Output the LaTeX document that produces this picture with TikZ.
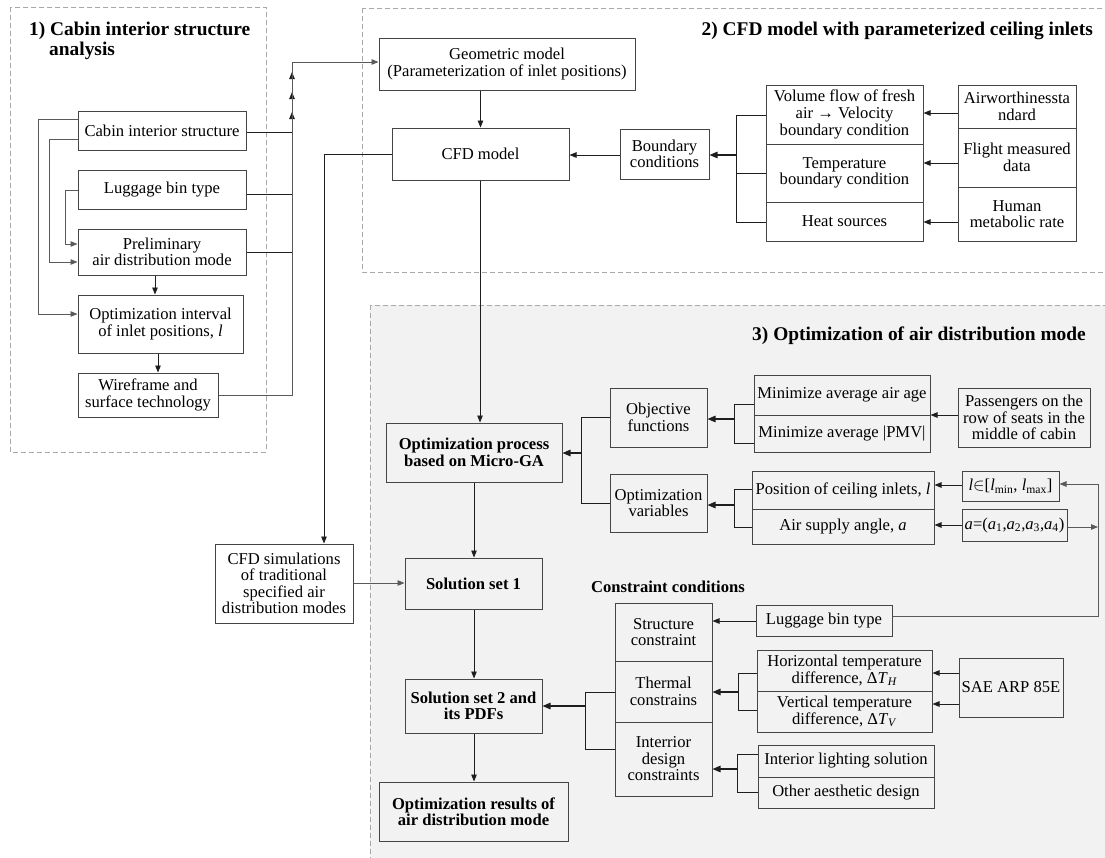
\documentclass[tikz,border=0pt]{standalone}
\usepackage{fontspec}
\setmainfont{Liberation Serif}
\usetikzlibrary{arrows.meta}
\definecolor{boxline}{HTML}{454545}
\definecolor{conline}{HTML}{1E1E1E}
\definecolor{grayline}{HTML}{5A5A5A}
\definecolor{dashcol}{HTML}{A8A8A8}
\definecolor{secfill}{HTML}{F2F2F2}
\newcommand{\bodyfont}{\fontsize{16.6}{16.5}\selectfont}
\newcommand{\looseBody}{\fontsize{16.6}{17}\selectfont}
\newcommand{\titlefont}{\fontsize{19.4}{20}\selectfont\bfseries}
\tikzset{
  box/.style={draw=boxline, line width=1pt, inner sep=0pt, align=center, font=\bodyfont},
  bbox/.style={box, font=\bodyfont\bfseries},
  wh/.style 2 args={minimum width=#1pt, minimum height=#2pt},
  con/.style={draw=conline, line width=0.9pt},
  arr/.style={con, -{Triangle[length=7pt,width=5.5pt]}},
  arrb/.style={con, line width=1.2pt, -{Triangle[length=8pt,width=6.5pt]}},
  arrg/.style={draw=grayline, line width=0.9pt, -{Triangle[length=7pt,width=5.5pt]}},
  sec/.style={draw=dashcol, line width=0.8pt, dash pattern=on 5pt off 3pt},
  ttl/.style={font=\titlefont, inner sep=0pt},
}
\begin{document}
\begin{tikzpicture}[x=1pt,y=-1pt]
\useasboundingbox (0,0) rectangle (1105,857);
\clip (0,0) rectangle (1105,857);
\fill[white] (0,0) rectangle (1105,857);
% sections
\fill[secfill] (370,305) rectangle (1112,864);
\draw[sec] (370,305) rectangle (1112,864);
\draw[sec] (10,7) rectangle (266,452);
\draw[sec] (362,8) rectangle (1112,272);
% titles
\node[ttl, anchor=base west] (t1a) at (29,35) {1) Cabin interior structure};
\node[ttl, anchor=base west] (t1b) at (49,55) {analysis};
\node[ttl, anchor=base east] (t2) at (1093,35) {2) CFD model with parameterized ceiling inlets};
\node[ttl, anchor=base east] (t3) at (1086,340) {3) Optimization of air distribution mode};
\node[font=\bodyfont\bfseries, inner sep=0pt, anchor=base west] (tc) at (591,592) {Constraint conditions};
% section 1
\node[box, wh={168}{39}] (cabin) at (162,130.5) {Cabin interior structure};
\node[box, wh={168}{39}] (lugA) at (162,189.5) {Luggage bin type};
\node[box, wh={168}{46}] (prelim) at (162,252) {Preliminary\\air distribution mode};
\node[box, wh={165}{58}] (optint) at (160.5,324) {Optimization interval\\of inlet positions, \textit{l}};
\node[box, wh={140}{44}] (wire) at (148,395) {Wireframe and\\surface technology};
% section 2
\node[box, wh={256}{52}] (geom) at (507,64) {Geometric model\\(Parameterization of inlet positions)};
\node[box, wh={177}{52}] (cfd) at (480.5,154) {CFD model};
\node[box, wh={89}{50}] (bound) at (664.5,154) {Boundary\\conditions};
\node[box, font=\looseBody, wh={157}{59}] (vol) at (844.5,114.5) {Volume flow of fresh\\air → Velocity\\boundary condition};
\node[box, wh={157}{58}] (temp) at (844.5,173) {Temperature\\boundary condition};
\node[box, wh={157}{39}] (heat) at (844.5,221.5) {Heat sources};
\node[box, wh={118}{43}] (airw) at (1017,106.5) {Airworthinessta\\ndard};
\node[box, wh={118}{59}] (flight) at (1017,157.5) {Flight measured\\data};
\node[box, wh={118}{54}] (human) at (1017,214) {Human\\metabolic rate};
% section 3
\node[bbox, wh={176}{59}] (optproc) at (474,452.5) {Optimization process\\based on Micro-GA};
\node[box, wh={97}{59}] (obj) at (658.5,417.5) {Objective\\functions};
\node[box, wh={97}{58}] (optvar) at (658.5,503) {Optimization\\variables};
\node[box, wh={176}{40}] (age) at (842,395) {Minimize average air age};
\node[box, wh={176}{37}] (pmv) at (842,433.5) {Minimize average |PMV|};
\node[box, wh={132}{59}] (pass) at (1024,417.5) {Passengers on the\\row of seats in the\\middle of cabin};
\node[box, wh={182}{38}] (pos) at (843,490) {Position of ceiling inlets, \textit{l}};
\node[box, wh={182}{35}] (ang) at (843,526.5) {Air supply angle, \textit{a}};
\node[box, wh={97}{30}] (lin) at (1010.5,486) {\textit{l}$\in$[\textit{l}\textsubscript{min}, \textit{l}\textsubscript{max}]};
\node[box, wh={105}{32}] (aeq) at (1014.5,525) {\textit{a}=(\textit{a}\textsubscript{1},\textit{a}\textsubscript{2},\textit{a}\textsubscript{3},\textit{a}\textsubscript{4})};
\node[box, fill=white, wh={138}{79}] (cfdsim) at (284,583.5) {CFD simulations\\of traditional\\specified air\\distribution modes};
\node[bbox, wh={137}{51}] (sol1) at (473.5,583.5) {Solution set 1};
\node[bbox, wh={137}{54}] (sol2) at (473.5,706) {Solution set 2 and\\its PDFs};
\node[bbox, wh={189}{59}] (res) at (473.5,811.5) {Optimization results of\\air distribution mode};
\node[box, wh={97}{58}] (struct) at (663.5,632) {Structure\\constraint};
\node[box, wh={97}{61}] (thermal) at (663.5,691.5) {Thermal\\constrains};
\node[box, wh={97}{74}] (interior) at (663.5,759) {Interrior\\design\\constraints};
\node[box, wh={136}{31}] (lugB) at (824,620.5) {Luggage bin type};
\node[box, wh={175}{41}] (hd) at (844.5,670.5) {Horizontal temperature\\difference, Δ\textit{T}\textsubscript{\textit{H}}};
\node[box, wh={175}{41}] (vd) at (844.5,711.5) {Vertical temperature\\difference, Δ\textit{T}\textsubscript{\textit{V}}};
\node[box, wh={104}{59}] (sae) at (1011,687.5) {SAE ARP 85E};
\node[box, wh={176}{32}] (light) at (846,761) {Interior lighting solution};
\node[box, wh={176}{31}] (aesth) at (846,792.5) {Other aesthetic design};
% connectors section 1
\draw[arrg] (cabin.west |- 0,119) -| (38,314) -- (optint.west |- 0,314);
\draw[arrg] (cabin.west |- 0,139) -| (49,262) -- (prelim.west |- 0,262);
\draw[arrg] (lugA.west |- 0,190) -| (65,244) -- (prelim.west |- 0,244);
\draw[arr] (prelim.south -| 155,0) -- (optint.north -| 155,0);
\draw[arr] (optint.south -| 158,0) -- (wire.north -| 158,0);
\coordinate (mx) at (292,62);
\draw[arr] (cabin.east |- 0,132) -| (292,112);
\draw[arr] (lugA.east |- 0,194) -| (292,92);
\draw[arr] (prelim.east |- 0,252) -| (292,72);
\draw[arrg] (wire.east) -| (mx) -- (geom.west |- mx);
% connectors section 2
\draw[arr] (cfd.north |- geom.south) -- (cfd.north);
\draw[arr] (bound.west |- 0,155) -- (cfd.east |- 0,155);
\draw[con] (vol.west |- 0,115) -| (736,222) -- (heat.west |- 0,222);
\draw[con] (temp.west) -- (736,173);
\draw[arrb] (736,155) -- (bound.east |- 0,155);
\draw[arr] (airw.west |- 0,113) -- (vol.east |- 0,113);
\draw[arr] (flight.west |- 0,163) -- (temp.east |- 0,163);
\draw[arr] (human.west |- 0,222) -- (heat.east |- 0,222);
\draw[arr] (cfd.west) -| (cfdsim.north -| 324,0);
\draw[arr] (cfd.south -| 480,0) -- (optproc.north -| 480,0);
% connectors section 3
\draw[con] (obj.west) -- (581,417.5) |- (optvar.west);
\draw[arrb] (581,453) -- (optproc.east |- 0,453);
\draw[con] (age.west |- 0,404) -| (734,443) -- (pmv.west |- 0,443);
\draw[arrb] (734,419) -- (obj.east |- 0,419);
\draw[arr] (pass.west |- 0,415) -- (age.east |- 0,415);
\draw[con] (pos.west |- 0,489) -| (734,527) -- (ang.west |- 0,527);
\draw[arrb] (734,505) -- (optvar.east |- 0,505);
\draw[arr] (lin.west |- 0,485) -- (pos.east |- 0,485);
\draw[arr] (aeq.west |- 0,525) -- (ang.east |- 0,525);
\draw[arrg] (lugB.east |- 0,616) -| (1098,484) -- (lin.east |- 0,484);
\draw[arrg] (aeq.east |- 0,527) -- (1098,527);
\draw[arr] (optproc.south -| 474,0) -- (sol1.north -| 474,0);
\draw[arr] (sol1.south -| 474,0) -- (sol2.north -| 474,0);
\draw[arr] (sol2.south -| 474,0) -- (res.north -| 474,0);
\draw[arrg] (cfdsim.east |- 0,583) -- (sol1.west |- 0,583);
\draw[con] (thermal.west |- 0,692) -| (585,749) -- (interior.west |- 0,749);
\draw[arrb] (585,706) -- (sol2.east |- 0,706);
\draw[arr] (lugB.west |- 0,621) -- (struct.east |- 0,621);
\draw[con] (hd.west |- 0,673) -| (738,710) -- (vd.west |- 0,710);
\draw[arrb] (738,692) -- (thermal.east |- 0,692);
\draw[arr] (sae.west |- 0,673) -- (hd.east |- 0,673);
\draw[arr] (sae.west |- 0,704) -- (vd.east |- 0,704);
\draw[con] (light.west |- 0,754) -| (737,792) -- (aesth.west |- 0,792);
\draw[arrb] (737,769) -- (interior.east |- 0,769);
\end{tikzpicture}
\end{document}
